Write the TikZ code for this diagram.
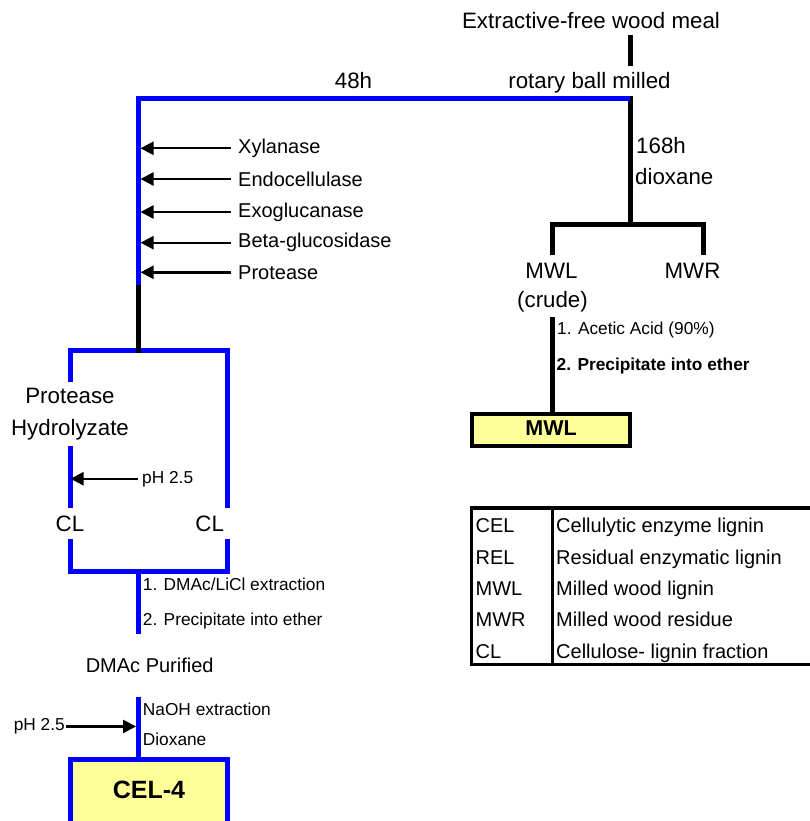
\documentclass[tikz,border=0pt]{standalone}
\usepackage{fontspec}
\setmainfont{Liberation Sans}
\usetikzlibrary{arrows.meta}
\definecolor{resyellow}{RGB}{255,255,153}

\begin{document}
\begin{tikzpicture}[x=1pt, y=-1pt,
  lbl/.style={font=\fontsize{22.3}{31.7}\selectfont, inner sep=0pt},
  enz/.style={font=\fontsize{20}{24}\selectfont, anchor=west, inner xsep=7pt, inner ysep=0pt},
  tab/.style={font=\fontsize{20}{24}\selectfont, anchor=base west, inner sep=0pt},
  note/.style={font=\fontsize{17.3}{20}\selectfont, anchor=base west, inner sep=0pt},
  bl/.style={draw=blue, line width=5pt},
  bk/.style={draw=black, line width=5pt},
  arr/.style={line width=2.4pt, -{Triangle[length=13pt,width=13pt]}},
  res/.style={fill=resyellow, inner sep=0pt, minimum width=157pt}
]
\useasboundingbox (0,0) rectangle (810,821);

% junctions
\coordinate (jt) at (630,98.3);
\coordinate (jl) at (138.5,98.3);
\coordinate (blk) at (138.5,287);
\coordinate (ju) at (138.5,350.7);
\coordinate (ul) at (70.5,350.7);
\coordinate (ur) at (227.5,350.7);
\coordinate (st) at (138.5,571);
\coordinate (ll) at (70.5,571);
\coordinate (lr) at (227.5,571);
\coordinate (fl) at (552.5,224);
\coordinate (fr) at (703.5,224);

% top
\node[lbl, anchor=base, inner ysep=6.7pt] (meal) at (591,28.3) {Extractive-free wood meal};
\node[lbl, anchor=base, inner ysep=6pt] (mill) at (589.5,88.3) {rotary ball milled};
\node[lbl, anchor=base] (h48) at (353.5,88.3) {48h};
\node[lbl, anchor=base west] (h168) at (636,153.3) {168h};
\node[lbl, anchor=base west] (diox) at (635,185) {dioxane};
\draw[bk] (jt |- meal.south) -- (jt |- mill.north);

% milled wood branch
\node[lbl, anchor=base, inner ysep=7.5pt] (mwl) at (551.5,278.3) {MWL};
\node[lbl, anchor=base, inner ysep=7.5pt] (mwr) at (692.5,278.3) {MWR};
\node[lbl, anchor=base, inner ysep=5pt] (crude) at (552.5,307.5) {(crude)};
\node[note] (acet) at (557,334.7) {1. Acetic Acid (90\%)};
\node[note, font=\fontsize{17.3}{20}\selectfont\bfseries] (prec1) at (556.5,370.7) {2. Precipitate into ether};
\node[res, draw=black, line width=4.3pt, minimum width=158pt, minimum height=32pt,
  font=\fontsize{21.5}{24}\selectfont\bfseries, text height=15pt, text depth=5pt] (mwlbox) at (551,430) {MWL};
\draw[bk, line cap=rect] (jt) -- (jt |- fl);
\draw[bk] (fl |- mwl.north) -- (fl) -- (fr) -- (fr |- mwr.north);
\draw[bk] (crude.south) -- (crude.south |- mwlbox.north);

% enzyme branch
\draw[bl] (jt) -- (jl) -- (blk);
\node[enz] (xyl) at (231,148.3) {Xylanase};
\node[enz] (endo) at (231,179) {Endocellulase};
\node[enz] (exo) at (231,212) {Exoglucanase};
\node[enz] (beta) at (231,242.7) {Beta-glucosidase};
\node[enz] (prot1) at (231,272.3) {Protease};
\draw[arr, shorten >=2pt] (xyl.west) -- (jl |- xyl.west);
\draw[arr, shorten >=2pt] (endo.west) -- (jl |- endo.west);
\draw[arr, shorten >=2pt] (exo.west) -- (jl |- exo.west);
\draw[arr, shorten >=2pt] (beta.west) -- (jl |- beta.west);
\draw[arr, shorten >=2pt] (prot1.west) -- (jl |- prot1.west);

% hydrolyzate
\node[lbl, align=center, minimum height=64.3pt] (prot) at (70,413.9) {Protease\\Hydrolyzate};
\node[lbl, minimum height=30.7pt] (cla) at (70,523.7) {CL};
\node[lbl, minimum height=30.7pt] (clb) at (209.7,523.7) {CL};
\draw[bl] (ul |- prot.north) -- (ul) -- (ur) -- (ur |- clb.north);
\draw[bl] (ul |- prot.south) -- (ul |- cla.north);
\draw[bl] (ll |- cla.south) -- (ll) -- (lr) -- (lr |- clb.south);
\draw[bk, line cap=rect] (blk) -- (ju);
\node[note, inner xsep=4pt] (ph1) at (138,483) {pH 2.5};
\draw[arr] (ph1.west) -- (ul |- ph1.west);

% purification
\node[note] (dmacx) at (142.7,590.7) {1. DMAc/LiCl extraction};
\node[note] (prec2) at (142.7,625.7) {2. Precipitate into ether};
\node[font=\fontsize{20}{24}\selectfont, minimum height=63pt, inner sep=0pt] (dmac) at (149.7,665.5) {DMAc Purified};
\node[note] (naoh) at (142.7,715.7) {NaOH extraction};
\node[note] (diox2) at (142.7,745.7) {Dioxane};
\node[note, anchor=base east, inner xsep=1pt] (ph2) at (66,730.7) {pH 2.5};
\node[res, draw=blue, line width=5pt, minimum height=80.5pt,
  font=\fontsize{25}{28}\selectfont\bfseries, text height=18pt, text depth=20.9pt] (cel) at (149,799.75) {CEL-4};
\draw[bl] (st) -- (st |- dmac.north);
\draw[bl] (st |- dmac.south) -- (st |- cel.north);
\draw[arr, shorten >=2.5pt] (ph2.east) -- (st |- ph2.east);

% legend
\draw[line width=3.5pt] (471.7,508) rectangle (850,664.5);
\draw[line width=3.5pt] (552.3,508) -- (552.3,664.5);
\node[tab] (kcel) at (475.5,532.5) {CEL};
\node[tab] (krel) at (475.5,564) {REL};
\node[tab] (kmwl) at (475.5,595.5) {MWL};
\node[tab] (kmwr) at (475.5,626.5) {MWR};
\node[tab] (kcl) at (475.5,658) {CL};
\node[tab] (dcel) at (556,532.5) {Cellulytic enzyme lignin};
\node[tab] (drel) at (556,564) {Residual enzymatic lignin};
\node[tab] (dmwl) at (556,595.5) {Milled wood lignin};
\node[tab] (dmwr) at (556,626.5) {Milled wood residue};
\node[tab] (dcl) at (556,658) {Cellulose- lignin fraction};
\end{tikzpicture}
\end{document}
